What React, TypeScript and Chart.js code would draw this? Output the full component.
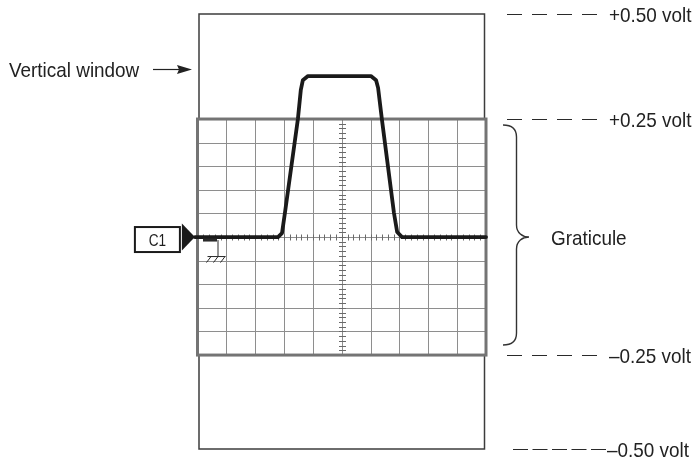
import React, { useEffect, useRef } from 'react';
import { Chart, registerables } from 'chart.js';

Chart.register(...registerables);

// Trace: horizontal position in graticule divisions, vertical position in volts
const TRACE_X = [-0.09, 2.79, 2.93, 3.03, 3.48, 3.58, 3.65, 3.83, 6.01, 6.19, 6.26, 6.39, 6.81, 6.92, 7.09, 10];
const TRACE_Y = [0, 0, 0.0085, 0.051, 0.25, 0.311, 0.332, 0.341, 0.341, 0.332, 0.316, 0.25, 0.051, 0.0106, 0, 0];

// Graticule: 10 horizontal divisions, 10 vertical divisions of 0.05 V
const GRID_X = [0, 1, 2, 3, 4, 5, 6, 7, 8, 9, 10];
const GRID_Y = [-0.25, -0.2, -0.15, -0.1, -0.05, 0, 0.05, 0.1, 0.15, 0.2, 0.25];

// Vertical window limits (schematic, labelled ±0.50 volt)
const WINDOW_TOP = 0.4725;
const WINDOW_BOTTOM = -0.449;

// Level labels on the right
const LEVEL_VALUES = [WINDOW_TOP, 0.25, -0.25, WINDOW_BOTTOM];
const LEVEL_LABELS = ['+0.50 volt', '+0.25 volt', '\u20130.25 volt', '\u20130.50 volt'];

const CHANNEL_LABEL = 'C1';
const WINDOW_LABEL = 'Vertical window';
const GRATICULE_LABEL = 'Graticule';

const FONT = '"Liberation Sans", Arial, sans-serif';

function condensedText(ctx: CanvasRenderingContext2D, text: string, x: number, y: number, size: number, sx: number, align: CanvasTextAlign = 'left') {
  ctx.save();
  ctx.font = `${size}px ${FONT}`;
  ctx.textAlign = align;
  ctx.textBaseline = 'alphabetic';
  ctx.translate(x, y);
  ctx.scale(sx, 1);
  ctx.fillText(text, 0, 0);
  ctx.restore();
}

const diagramPlugin = {
  id: 'scopeDiagram',
  beforeDatasetsDraw(chart: any) {
    const ctx = chart.ctx as CanvasRenderingContext2D;
    const xs = chart.scales.x;
    const ys = chart.scales.y;
    const px = (v: number) => xs.getPixelForValue(v);
    const py = (v: number) => ys.getPixelForValue(v);
    const crisp = (p: number) => Math.round(p) + 0.5;

    ctx.save();
    // vertical window
    const wl = px(0) + 1.5;
    const wr = px(10) - 1.5;
    const wt = py(WINDOW_TOP);
    const wb = py(WINDOW_BOTTOM);
    ctx.strokeStyle = '#3c3c3c';
    ctx.lineWidth = 1.5;
    ctx.strokeRect(wl, wt, wr - wl, wb - wt);

    // graticule fill
    const gl = px(GRID_X[0]);
    const gr = px(GRID_X[GRID_X.length - 1]);
    const gt = py(GRID_Y[GRID_Y.length - 1]);
    const gb = py(GRID_Y[0]);
    ctx.fillStyle = '#ffffff';
    ctx.fillRect(gl, gt, gr - gl, gb - gt);

    // grid lines
    ctx.strokeStyle = '#8e8e8e';
    ctx.lineWidth = 1;
    ctx.beginPath();
    GRID_X.slice(1, -1).forEach((v) => {
      const x = crisp(px(v));
      ctx.moveTo(x, gt);
      ctx.lineTo(x, gb);
    });
    GRID_Y.slice(1, -1).forEach((v) => {
      const y = crisp(py(v));
      ctx.moveTo(gl, y);
      ctx.lineTo(gr, y);
    });
    ctx.stroke();

    // centre minor ticks
    ctx.strokeStyle = '#6a6a6a';
    ctx.beginPath();
    const cx = crisp(px(5));
    const cy = crisp(py(0));
    for (let i = -25; i <= 25; i++) {
      const y = crisp(py(i * 0.01));
      ctx.moveTo(cx - 3.5, y);
      ctx.lineTo(cx + 3.5, y);
    }
    for (let i = 0; i <= 50; i++) {
      const x = crisp(px(i * 0.2));
      ctx.moveTo(x, cy - 3);
      ctx.lineTo(x, cy + 3);
    }
    ctx.stroke();

    // graticule border
    ctx.strokeStyle = '#747474';
    ctx.lineWidth = 3;
    ctx.strokeRect(gl, gt, gr - gl, gb - gt);
    ctx.restore();
  },
  afterDatasetsDraw(chart: any) {
    const ctx = chart.ctx as CanvasRenderingContext2D;
    const xs = chart.scales.x;
    const ys = chart.scales.y;
    const px = (v: number) => xs.getPixelForValue(v);
    const py = (v: number) => ys.getPixelForValue(v);

    ctx.save();
    const y0 = py(0);
    const tipX = px(TRACE_X[0]);

    // channel marker triangle
    ctx.fillStyle = '#1a1a1a';
    ctx.beginPath();
    ctx.moveTo(tipX, y0);
    ctx.lineTo(tipX - 13, y0 - 13.5);
    ctx.lineTo(tipX - 13, y0 + 13.5);
    ctx.closePath();
    ctx.fill();

    // C1 box
    ctx.strokeStyle = '#1a1a1a';
    ctx.lineWidth = 2;
    ctx.strokeRect(tipX - 60, y0 - 10, 45, 25);
    ctx.fillStyle = '#1e1e1e';
    condensedText(ctx, CHANNEL_LABEL, tipX - 37.5, y0 + 8.5, 16, 0.85, 'center');

    // ground reference symbol
    const gx = px(0);
    ctx.fillStyle = '#2a2a2a';
    ctx.fillRect(gx + 5.5, y0 + 1.5, 14, 3);
    ctx.strokeStyle = '#2a2a2a';
    ctx.lineWidth = 1;
    ctx.beginPath();
    ctx.moveTo(gx + 20.5, y0 + 3);
    ctx.lineTo(gx + 20.5, y0 + 19.5);
    ctx.moveTo(gx + 10, y0 + 19.5);
    ctx.lineTo(gx + 28, y0 + 19.5);
    [13.5, 20.5, 27.5].forEach((d) => {
      ctx.moveTo(gx + d, y0 + 19.5);
      ctx.lineTo(gx + d - 4.5, y0 + 25.5);
    });
    ctx.stroke();

    // Vertical window label + arrow
    ctx.fillStyle = '#222';
    condensedText(ctx, WINDOW_LABEL, 9, 77, 21, 0.9);
    ctx.strokeStyle = '#222';
    ctx.lineWidth = 1.2;
    ctx.beginPath();
    ctx.moveTo(153, 69.5);
    ctx.lineTo(180, 69.5);
    ctx.stroke();
    ctx.beginPath();
    ctx.moveTo(192, 69.5);
    ctx.lineTo(177, 65);
    ctx.lineTo(179, 69.5);
    ctx.lineTo(177, 74);
    ctx.closePath();
    ctx.fill();

    // level dashes and labels
    ctx.strokeStyle = '#2a2a2a';
    ctx.lineWidth = 1.2;
    LEVEL_VALUES.forEach((v, i) => {
      const y = Math.round(py(v)) + 0.5;
      const last = i === LEVEL_VALUES.length - 1;
      ctx.setLineDash(last ? [15, 4.5] : [15, 10]);
      ctx.beginPath();
      ctx.moveTo(last ? 513 : 507, y);
      ctx.lineTo(last ? 606 : 598, y);
      ctx.stroke();
      ctx.setLineDash([]);
      condensedText(ctx, LEVEL_LABELS[i], last ? 607 : 609, y + 7.5, 21, 0.9);
    });

    // brace for graticule
    const bt = py(0.25) + 6;
    const bb = py(-0.25) - 10;
    const bx = 503;
    const bv = 516.5;
    const btip = 529;
    ctx.lineWidth = 1.4;
    ctx.strokeStyle = '#333';
    ctx.beginPath();
    ctx.moveTo(bx, bt);
    ctx.bezierCurveTo(bx + 9, bt, bv, bt + 4, bv, bt + 12);
    ctx.lineTo(bv, y0 - 12);
    ctx.bezierCurveTo(bv, y0 - 4, bv + 6, y0, btip, y0);
    ctx.bezierCurveTo(bv + 6, y0, bv, y0 + 4, bv, y0 + 12);
    ctx.lineTo(bv, bb - 12);
    ctx.bezierCurveTo(bv, bb - 4, bx + 9, bb, bx, bb);
    ctx.stroke();

    condensedText(ctx, GRATICULE_LABEL, 551, y0 + 7.5, 21, 0.9);
    ctx.restore();
  },
};

export default function App() {
  const canvasRef = useRef<HTMLCanvasElement | null>(null);

  useEffect(() => {
    if (!canvasRef.current) return;
    const chart = new Chart(canvasRef.current, {
      type: 'line',
      data: {
        datasets: [
          {
            data: TRACE_X.map((x, i) => ({ x, y: TRACE_Y[i] })),
            borderColor: '#1a1a1a',
            borderWidth: 3.8,
            pointRadius: 0,
            fill: false,
            tension: 0,
            clip: false as any,
            borderJoinStyle: 'round',
            borderCapStyle: 'round',
          } as any,
        ],
      },
      options: {
        animation: false,
        responsive: false,
        devicePixelRatio: 1,
        layout: { padding: { left: 197.5, right: 214, top: 14, bottom: 11 } },
        plugins: { legend: { display: false }, tooltip: { enabled: false } },
        scales: {
          x: { type: 'linear', min: 0, max: 10, display: false },
          y: { type: 'linear', min: WINDOW_BOTTOM, max: WINDOW_TOP, display: false },
        },
      },
      plugins: [diagramPlugin],
    });
    return () => chart.destroy();
  }, []);

  return (
    <div style={{ position: 'fixed', left: 0, top: 0, width: 700, height: 460, background: '#fff' }}>
      <canvas ref={canvasRef} width={700} height={460} />
    </div>
  );
}
